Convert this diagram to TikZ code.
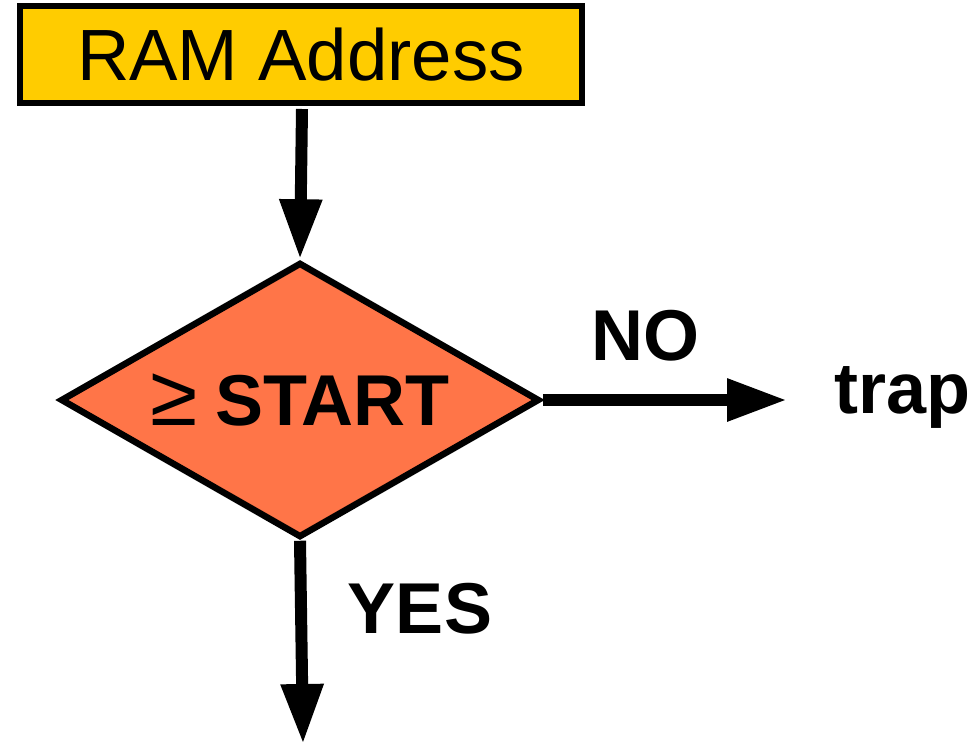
\documentclass[tikz,border=0pt]{standalone}
\usepackage{fontspec}
\setmainfont{Liberation Sans}
\usetikzlibrary{shapes.geometric,arrows.meta}
\definecolor{boxgold}{HTML}{FFCC00}
\definecolor{decisionred}{HTML}{FF7548}
\tikzset{
  flowbox/.style={draw=black, line width=6pt, fill=boxgold, inner sep=0pt,
    minimum width=562pt, minimum height=97pt,
    font=\fontsize{72.6}{80}\selectfont},
  decision/.style={diamond, aspect=1.742, draw=black, line width=6.5pt,
    fill=decisionred, inner sep=0pt, minimum width=479pt, minimum height=275pt,
    font=\fontsize{72}{80}\selectfont},
  flowarrow/.style={line width=12pt, -{Triangle[length=60pt,width=40pt]}},
  answer/.style={inner sep=0pt, font=\bfseries\fontsize{72}{80}\selectfont}
}
\begin{document}
\begin{tikzpicture}[x=1pt, y=-1pt]
  \useasboundingbox (0,0) rectangle (979,744);
  % address box and comparison
  \node[flowbox] (ram) at (301,54.5) {RAM Address};
  \node[decision] (cmp) at (300,400)
    {{\fontsize{86}{90}\selectfont ≥}\hspace{18pt}\textbf{START}};
  % free ends of the outgoing arrows
  \coordinate (noend) at (787,400);
  \coordinate (yesend) at (303,744);
  % flow
  \draw[flowarrow] (ram.south) ++(1,3) -- (cmp.north);
  \draw[flowarrow] (cmp.east) -- (noend);
  \draw[flowarrow] (cmp.south) -- (yesend);
  % branch labels
  \node[answer, anchor=base] (no) at (645.5,360) {NO};
  \node[answer, anchor=base west] (trap) at (834,413) {trap};
  \node[answer, anchor=base] (yes) at (420,633) {YES};
\end{tikzpicture}
\end{document}
